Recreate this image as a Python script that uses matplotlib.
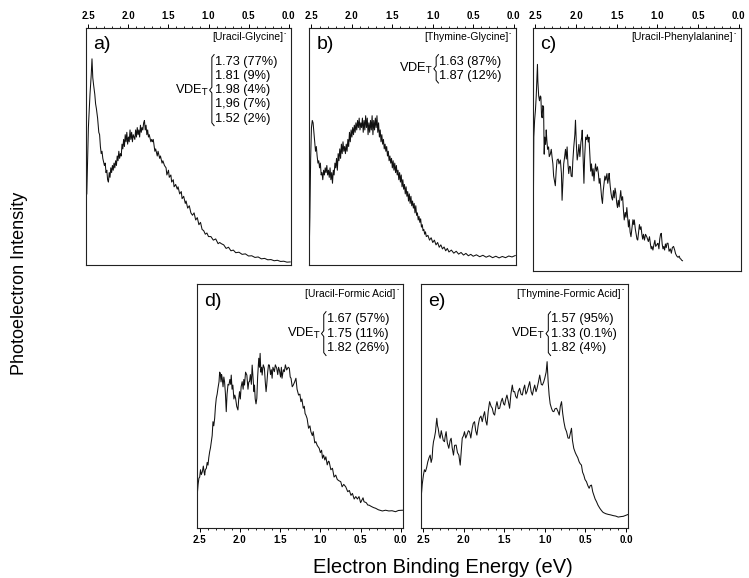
import numpy as np
import matplotlib.pyplot as plt
from matplotlib.ticker import MultipleLocator

plt.rcParams['font.family'] = ['Liberation Sans', 'DejaVu Sans']
plt.rcParams['mathtext.fontset'] = 'custom'
plt.rcParams['mathtext.rm'] = 'Liberation Sans'
plt.rcParams['mathtext.it'] = 'Liberation Sans:italic'

# tick values (eV) and their labels
xtick_vals = [2.5, 2.0, 1.5, 1.0, 0.5, 0.0]
xtick_labels = ['2.5', '2.0', '1.5', '1.0', '0.5', '0.0']

letters = ['a)', 'b)', 'c)', 'd)', 'e)']
species = ['[Uracil-Glycine]', '[Thymine-Glycine]', '[Uracil-Phenylalanine]',
           '[Uracil-Formic Acid]', '[Thymine-Formic Acid]']
vde_a = ['1.73 (77%)', '1.81 (9%)', '1.98 (4%)', '1,96 (7%)', '1.52 (2%)']
vde_b = ['1.63 (87%)', '1.87 (12%)']
vde_c = []
vde_d = ['1.67 (57%)', '1.75 (11%)', '1.82 (26%)']
vde_e = ['1.57 (95%)', '1.33 (0.1%)', '1.82 (4%)']

# spectra: binding energy (eV) / intensity (arb., 0-100)
e_a = [2.52, 2.50, 2.48, 2.465, 2.455, 2.445, 2.435, 2.42, 2.41, 2.40,
       2.385, 2.37, 2.36, 2.35, 2.34, 2.33, 2.32, 2.30, 2.29, 2.28,
       2.27, 2.26, 2.25, 2.24, 2.23, 2.22, 2.21, 2.20, 2.19, 2.18,
       2.17, 2.16, 2.15, 2.14, 2.13, 2.12, 2.11, 2.10, 2.09, 2.08,
       2.07, 2.06, 2.05, 2.04, 2.03, 2.02, 2.01, 2.00, 1.99, 1.98,
       1.97, 1.96, 1.95, 1.94, 1.93, 1.92, 1.91, 1.90, 1.89, 1.88,
       1.87, 1.86, 1.85, 1.84, 1.83, 1.82, 1.81, 1.80, 1.79, 1.78,
       1.77, 1.76, 1.75, 1.74, 1.72, 1.71, 1.70, 1.69, 1.67, 1.66,
       1.64, 1.63, 1.61, 1.60, 1.58, 1.57, 1.55, 1.53, 1.52, 1.50,
       1.49, 1.47, 1.46, 1.44, 1.43, 1.41, 1.39, 1.38, 1.36, 1.34,
       1.33, 1.31, 1.29, 1.28, 1.26, 1.24, 1.22, 1.20, 1.18, 1.16,
       1.14, 1.12, 1.10, 1.08, 1.06, 1.04, 1.02, 1.00, 0.97, 0.94,
       0.91, 0.88, 0.86, 0.84, 0.81, 0.78, 0.75, 0.72, 0.69, 0.66,
       0.62, 0.58, 0.54, 0.50, 0.46, 0.42, 0.38, 0.34, 0.30, 0.26,
       0.22, 0.18, 0.14, 0.10, 0.06, 0.02, -0.02]
i_a = [30, 58, 72, 80, 87, 79, 76, 72, 68, 66,
       62, 56, 55, 50, 47, 48, 45, 42, 43, 39,
       40, 36, 35, 39, 37, 41, 39, 42, 40, 43,
       41, 44, 42, 46, 44, 48, 45, 47, 46, 51,
       49, 53, 50, 55, 52, 56, 51, 54, 52, 57,
       53, 56, 52, 55, 54, 53, 57, 54, 58, 55,
       57, 54, 59, 56, 58, 57, 60, 61, 57, 59,
       55, 57, 54, 55, 52, 53, 52, 53, 48, 49,
       46, 48, 45, 46, 43, 44, 42, 41, 38, 40,
       37, 38, 35, 36, 33, 34, 32, 33, 30, 31,
       28, 29, 26, 27, 24, 25, 22, 21, 22, 19,
       20, 17, 18, 15, 14.5, 13, 13.5, 12, 12, 10.5,
       11, 9, 9.5, 9, 8.5, 7, 7.5, 6, 6.3, 5.2,
       5.4, 4.5, 4.7, 3.8, 3.9, 3.2, 3.4, 2.6, 2.8, 2.2,
       2.3, 1.8, 2.0, 1.5, 1.6, 1.2, 1.3]

e_b = [2.53, 2.52, 2.51, 2.50, 2.49, 2.48, 2.47, 2.46, 2.45, 2.44,
       2.43, 2.42, 2.41, 2.40, 2.39, 2.38, 2.37, 2.36, 2.35, 2.34,
       2.33, 2.32, 2.31, 2.30, 2.29, 2.28, 2.27, 2.26, 2.25, 2.24,
       2.23, 2.22, 2.21, 2.20, 2.19, 2.18, 2.17, 2.16, 2.15, 2.14,
       2.13, 2.12, 2.11, 2.10, 2.09, 2.08, 2.07, 2.06, 2.05, 2.04,
       2.03, 2.02, 2.01, 2.00, 1.99, 1.98, 1.97, 1.96, 1.95, 1.94,
       1.93, 1.92, 1.91, 1.90, 1.89, 1.88, 1.87, 1.86, 1.85, 1.84,
       1.83, 1.82, 1.81, 1.80, 1.79, 1.78, 1.77, 1.76, 1.75, 1.74,
       1.73, 1.72, 1.71, 1.70, 1.69, 1.68, 1.67, 1.66, 1.65, 1.64,
       1.63, 1.62, 1.61, 1.60, 1.59, 1.58, 1.57, 1.56, 1.55, 1.54,
       1.53, 1.52, 1.51, 1.50, 1.49, 1.48, 1.47, 1.46, 1.45, 1.44,
       1.43, 1.42, 1.41, 1.40, 1.39, 1.38, 1.37, 1.36, 1.35, 1.34,
       1.33, 1.32, 1.31, 1.30, 1.29, 1.28, 1.27, 1.26, 1.25, 1.24,
       1.23, 1.22, 1.21, 1.20, 1.19, 1.18, 1.17, 1.16, 1.15, 1.14,
       1.13, 1.12, 1.11, 1.10, 1.09, 1.08, 1.06, 1.04, 1.02, 1.00,
       0.98, 0.96, 0.94, 0.92, 0.90, 0.88, 0.86, 0.84, 0.82, 0.80,
       0.77, 0.74, 0.71, 0.68, 0.65, 0.62, 0.59, 0.56, 0.53, 0.50,
       0.46, 0.42, 0.38, 0.34, 0.30, 0.26, 0.22, 0.18, 0.14, 0.10,
       0.06, 0.02, -0.02]
i_b = [2, 20, 45, 58, 61, 60, 56, 52, 48, 50,
       46, 43, 44, 41, 43, 38, 39, 36, 40, 38,
       41, 39, 42, 38, 40, 37, 41, 36, 39, 34.5,
       40, 38, 43, 41, 45, 40, 47, 44, 49, 45,
       51, 47, 52, 48, 50, 47, 51, 48, 53, 50,
       56, 52, 57, 54, 58, 55, 59, 56, 60, 57,
       61, 58, 62, 57, 60, 58, 62, 56, 61, 57,
       63, 58, 62, 55, 60, 56, 61, 57, 63, 55,
       61, 57, 62, 58, 63, 56, 60, 54, 57, 52,
       55, 51, 53, 49, 51, 48, 50, 46, 48, 44,
       46, 43, 45, 41, 44, 40, 43, 39, 42, 38,
       40, 36, 39, 35, 38, 33, 36, 32, 34, 30,
       33, 29, 31, 27, 30, 26, 29, 25, 27, 24,
       26, 22, 25, 21, 22, 19, 20.5, 18, 19.5, 16,
       17, 14.5, 15, 13, 14, 12, 12.5, 10.5, 11.5, 9.5,
       10.5, 8.5, 9.5, 7.5, 8.5, 6.8, 7.6, 6, 7, 5.5,
       6.3, 5, 5.8, 4.6, 5.3, 4.2, 4.9, 3.9, 4.5, 3.7,
       4.3, 3.5, 4.1, 3.3, 3.9, 3.1, 3.7, 3.0, 3.6, 3.1,
       3.8, 3.4, 4.0]

e_c = [2.53, 2.525, 2.52, 2.51, 2.50, 2.49, 2.48, 2.475, 2.47, 2.46,
       2.45, 2.44, 2.433, 2.425, 2.417, 2.41, 2.40, 2.392, 2.385, 2.375,
       2.367, 2.36, 2.35, 2.338, 2.33, 2.317, 2.305, 2.296, 2.285, 2.276,
       2.265, 2.255, 2.245, 2.234, 2.22, 2.21, 2.193, 2.18, 2.172, 2.16,
       2.152, 2.14, 2.13, 2.12, 2.11, 2.10, 2.09, 2.08, 2.069, 2.06,
       2.048, 2.04, 2.028, 2.015, 2.007, 1.996, 1.986, 1.975, 1.965, 1.953,
       1.94, 1.93, 1.924, 1.915, 1.903, 1.895, 1.882, 1.87, 1.86, 1.85,
       1.841, 1.83, 1.82, 1.81, 1.80, 1.79, 1.779, 1.77, 1.76, 1.75,
       1.737, 1.725, 1.715, 1.705, 1.696, 1.685, 1.675, 1.665, 1.655, 1.645,
       1.634, 1.62, 1.61, 1.60, 1.593, 1.58, 1.57, 1.56, 1.551, 1.54,
       1.53, 1.52, 1.51, 1.50, 1.49, 1.48, 1.469, 1.46, 1.45, 1.44,
       1.427, 1.417, 1.407, 1.395, 1.385, 1.375, 1.365, 1.355, 1.345, 1.335,
       1.324, 1.31, 1.30, 1.29, 1.283, 1.27, 1.26, 1.25, 1.241, 1.23,
       1.22, 1.21, 1.20, 1.19, 1.18, 1.17, 1.158, 1.145, 1.13, 1.11,
       1.096, 1.085, 1.075, 1.066, 1.054, 1.04, 1.03, 1.02, 1.00, 0.992,
       0.98, 0.97, 0.96, 0.951, 0.94, 0.93, 0.92, 0.91, 0.90, 0.89,
       0.88, 0.868, 0.855, 0.84, 0.827, 0.815, 0.80, 0.786, 0.775, 0.76,
       0.744, 0.73, 0.72, 0.71, 0.70, 0.69]
i_c = [2, 30, 55, 62, 66, 72, 80, 85, 78, 72,
       70, 72, 71.6, 64, 63, 68, 67.5, 48, 55, 52,
       58, 54, 50, 51, 47, 48, 50, 47, 44, 39,
       37, 35, 41, 45.6, 46, 44, 45.6, 40, 29, 38,
       44, 47, 50, 46, 51, 44, 40, 43, 42.8, 39,
       38.7, 45, 51, 56, 62, 52, 45.6, 48, 52, 47,
       53, 55, 57.9, 49, 36, 46, 55, 54, 56, 53,
       55, 48, 41, 44, 39, 42, 37, 41, 44, 41,
       42.8, 40, 36, 38, 34.6, 30, 27.7, 33, 36, 39,
       37.3, 40, 36, 38, 40.1, 35, 32, 30, 29.1, 33,
       30, 34, 31.9, 28, 26, 29, 26.3, 30, 33, 29,
       30.5, 25, 20.9, 24, 22, 26, 22.2, 18, 21, 16,
       14, 18, 21, 19, 20.9, 17, 15, 13, 12.6, 16,
       19, 17, 18.1, 15, 13, 15, 12.6, 15, 14, 12,
       14, 11, 9, 10, 8.5, 11, 12.5, 10, 11, 11.3,
       9, 13, 15, 15.4, 11, 9, 10, 8.5, 11, 9.5,
       11.3, 11.3, 8, 9, 7.2, 9.5, 10, 8.5, 7, 6,
       5.5, 6, 5, 4.8, 4.3, 4.1]

e_d = [2.535, 2.53, 2.52, 2.51, 2.50, 2.49, 2.48, 2.467, 2.455, 2.445,
       2.438, 2.43, 2.417, 2.407, 2.397, 2.387, 2.376, 2.366, 2.356, 2.345,
       2.335, 2.325, 2.314, 2.304, 2.294, 2.283, 2.273, 2.26, 2.252, 2.244,
       2.235, 2.228, 2.22, 2.21, 2.20, 2.191, 2.18, 2.17, 2.16, 2.148,
       2.137, 2.125, 2.115, 2.108, 2.098, 2.088, 2.075, 2.064, 2.054, 2.04,
       2.025, 2.015, 2.005, 1.995, 1.985, 1.972, 1.96, 1.952, 1.943, 1.93,
       1.914, 1.90, 1.89, 1.881, 1.87, 1.858, 1.848, 1.835, 1.825, 1.819,
       1.81, 1.80, 1.79, 1.78, 1.766, 1.757, 1.749, 1.74, 1.73, 1.724,
       1.71, 1.696, 1.685, 1.675, 1.667, 1.655, 1.645, 1.634, 1.62, 1.61,
       1.60, 1.59, 1.572, 1.56, 1.543, 1.53, 1.52, 1.51, 1.495, 1.485,
       1.477, 1.46, 1.448, 1.435, 1.419, 1.40, 1.386, 1.375, 1.365, 1.35,
       1.337, 1.32, 1.304, 1.29, 1.271, 1.255, 1.242, 1.23, 1.213, 1.20,
       1.19, 1.18, 1.165, 1.147, 1.13, 1.118, 1.10, 1.089, 1.07, 1.056,
       1.04, 1.015, 1.00, 0.985, 0.974, 0.96, 0.945, 0.932, 0.915, 0.90,
       0.891, 0.87, 0.85, 0.83, 0.809, 0.79, 0.77, 0.747, 0.73, 0.71,
       0.685, 0.66, 0.64, 0.62, 0.602, 0.58, 0.56, 0.54, 0.52, 0.50,
       0.47, 0.458, 0.43, 0.41, 0.396, 0.37, 0.34, 0.313, 0.28, 0.25,
       0.23, 0.19, 0.149, 0.11, 0.066, 0.03, -0.02]
i_d = [8, 14, 18, 20.5, 21, 24, 22, 23.2, 25.5, 23,
       21.8, 24, 24.6, 27, 25.9, 29, 31.4, 33, 35.5, 38,
       43.7, 42, 45.1, 50, 53.3, 55, 57.4, 60, 64, 63.5,
       60, 63, 61.5, 58, 62, 60.1, 55, 47.8, 55, 59,
       58.7, 61, 59, 62.8, 57, 58.7, 53, 54.6, 53.3, 50,
       48.5, 53, 56, 53, 58, 60.1, 57, 61, 58.7, 64,
       62.8, 57, 60, 60.1, 63, 59, 66.9, 61, 56, 58.7,
       53, 51, 53.3, 62, 69.7, 66, 71.7, 64, 66, 62.8,
       67, 65.6, 60, 56, 58.7, 64, 67, 66.9, 63, 65,
       61.5, 66, 64.2, 67, 65.6, 63, 66, 64.9, 62, 66,
       61.5, 65, 64.2, 67, 64.9, 66, 65.6, 62, 61.5, 58,
       58.7, 60, 61.5, 57, 54.6, 55, 51.9, 53, 49.2, 50,
       47, 46.4, 45, 41, 42, 39.6, 38, 39.6, 35, 35.5,
       34, 32.8, 31, 32, 28.7, 30, 28, 29.3, 26, 27.5,
       27.3, 24, 24.6, 21, 21.8, 20, 19.5, 19.1, 17, 18,
       17, 15, 15.5, 13.5, 14.3, 12, 13, 12, 13, 10.5,
       12.5, 10.9, 10.5, 9.5, 9.5, 9, 8.5, 8.2, 7.6, 7.3,
       7.1, 7.4, 7.1, 7.2, 6.8, 7.3, 7.4]

e_e = [2.535, 2.529, 2.515, 2.50, 2.488, 2.475, 2.46, 2.446, 2.43, 2.417,
       2.405, 2.393, 2.385, 2.376, 2.365, 2.351, 2.342, 2.335, 2.326, 2.318,
       2.305, 2.294, 2.28, 2.269, 2.255, 2.24, 2.23, 2.22, 2.205, 2.187,
       2.17, 2.158, 2.145, 2.129, 2.115, 2.096, 2.08, 2.063, 2.046, 2.035,
       2.021, 2.005, 1.993, 1.978, 1.964, 1.945, 1.931, 1.915, 1.898, 1.885,
       1.869, 1.855, 1.84, 1.825, 1.807, 1.79, 1.774, 1.76, 1.745, 1.73,
       1.716, 1.70, 1.683, 1.665, 1.65, 1.635, 1.621, 1.605, 1.592, 1.575,
       1.559, 1.54, 1.526, 1.51, 1.498, 1.483, 1.469, 1.452, 1.436, 1.42,
       1.403, 1.39, 1.374, 1.36, 1.345, 1.33, 1.312, 1.295, 1.279, 1.265,
       1.25, 1.235, 1.221, 1.205, 1.188, 1.17, 1.155, 1.14, 1.126, 1.11,
       1.097, 1.08, 1.064, 1.045, 1.031, 1.015, 1.002, 0.985, 0.973, 0.96,
       0.948, 0.935, 0.919, 0.905, 0.89, 0.875, 0.857, 0.84, 0.823, 0.81,
       0.795, 0.78, 0.766, 0.75, 0.733, 0.715, 0.70, 0.685, 0.672, 0.66,
       0.644, 0.625, 0.611, 0.595, 0.578, 0.565, 0.549, 0.535, 0.52, 0.505,
       0.487, 0.47, 0.454, 0.44, 0.425, 0.41, 0.396, 0.38, 0.363, 0.345,
       0.322, 0.30, 0.281, 0.25, 0.219, 0.19, 0.157, 0.125, 0.095, 0.06,
       0.033, -0.029]
i_e = [8, 12.3, 18, 21.8, 24, 23.2, 25, 27.3, 29, 30,
       27, 28.7, 33, 35.5, 37, 39.6, 43, 45.1, 42, 41,
       38, 36.9, 40, 38.2, 36, 35.5, 38, 39.6, 35, 32.8,
       36, 36.9, 33, 30, 34, 34.1, 31, 30, 25.9, 31,
       36.9, 38, 39.6, 37, 38.2, 40, 39.6, 37, 41, 43,
       43.7, 40, 38.2, 42, 45.1, 46, 43.7, 46, 47.8, 44,
       42.3, 48, 51.9, 50, 49.2, 47, 46.4, 50, 51.9, 49,
       49.2, 52, 53.3, 51, 50.5, 53, 54.6, 52, 49.2, 55,
       58.7, 56, 56, 54, 53.3, 56, 57.4, 55, 54.6, 57,
       58.7, 55, 56, 58, 60.1, 56, 54.6, 57, 58.7, 56,
       57.4, 60, 62.8, 59, 58.7, 60, 61.5, 64, 68.3, 60,
       54.6, 51, 49.2, 48, 47.8, 49, 49.2, 48, 46.4, 50,
       51.9, 47, 43.7, 41, 39.6, 37, 36.9, 39, 41, 36,
       32.8, 31, 30, 29, 27.3, 26.5, 25.9, 23, 21.8, 20,
       19.1, 17.5, 16.4, 17.5, 17.7, 15, 13.6, 12, 10.9, 9.5,
       8.2, 7.2, 6.5, 6, 5.7, 5.5, 5.2, 5, 4.6, 4.8,
       4.9, 5.7]


def draw_brace(ax, x, y_top, y_bot):
    ym = (y_top + y_bot) / 2
    xs = [x + 0.013, x + 0.002, x + 0.002, x - 0.009, x + 0.002, x + 0.002, x + 0.013]
    ys = [y_top, y_top - 0.012, ym + 0.012, ym, ym - 0.012, y_bot + 0.012, y_bot]
    ax.plot(xs, ys, transform=ax.transAxes, color='black', lw=0.7, clip_on=False)


def panel(ax, e, i, letter, name, vde, top):
    ax.plot(e, i, color='#111111', lw=0.75)
    ax.set_xlim(2.53, -0.03)
    ax.set_ylim(0, 100)
    ax.set_yticks([])
    ax.set_xticks(xtick_vals)
    ax.set_xticklabels(xtick_labels, fontweight='bold')
    ax.xaxis.set_minor_locator(MultipleLocator(0.1))
    if top:
        ax.xaxis.tick_top()
    ax.tick_params(axis='x', which='major', direction='out', length=3, width=0.7,
                   labelsize=7, pad=2)
    ax.tick_params(axis='x', which='minor', direction='out', length=1.6, width=0.6)
    for s in ax.spines.values():
        s.set_linewidth(0.8)
        s.set_color('#222222')

    ax.text(0.035, 0.93, letter, transform=ax.transAxes, fontsize=14,
            ha='left', va='center')
    ax.text(0.962, 0.962, name, transform=ax.transAxes,
            fontsize=7.5, ha='right', va='center')
    ax.text(0.966, 0.978, '-', transform=ax.transAxes,
            fontsize=5, ha='left', va='center')
    if vde:
        y0 = 0.858
        dy = 0.06
        ys = [y0 - k * dy for k in range(len(vde))]
        for y, s in zip(ys, vde):
            ax.text(0.628, y, s, transform=ax.transAxes, fontsize=9.2,
                    ha='left', va='center')
        draw_brace(ax, 0.612, ys[0] + 0.03, ys[-1] - 0.03)
        ax.text(0.598, (ys[0] + ys[-1]) / 2, r'VDE$_\mathsf{T}$', transform=ax.transAxes,
                fontsize=9.2, ha='right', va='center')


fig = plt.figure(figsize=(7.49, 5.78), dpi=100)

ax_a = fig.add_axes([0.1148, 0.5415, 0.2737, 0.4100])
ax_b = fig.add_axes([0.4126, 0.5415, 0.2764, 0.4100])
ax_c = fig.add_axes([0.7116, 0.5317, 0.2777, 0.4199])
ax_d = fig.add_axes([0.2634, 0.0860, 0.2750, 0.4221])
ax_e = fig.add_axes([0.5621, 0.0860, 0.2768, 0.4221])

panel(ax_a, e_a, i_a, letters[0], species[0], vde_a, True)
panel(ax_b, e_b, i_b, letters[1], species[1], vde_b, True)
panel(ax_c, e_c, i_c, letters[2], species[2], vde_c, True)
panel(ax_d, e_d, i_d, letters[3], species[3], vde_d, False)
panel(ax_e, e_e, i_e, letters[4], species[4], vde_e, False)

fig.text(0.026, 0.51, 'Photoelectron Intensity', rotation=90, fontsize=13,
         ha='center', va='center')
fig.text(0.591, 0.019, 'Electron Binding Energy (eV)', fontsize=14.5,
         ha='center', va='center')

fig.savefig('out.png', dpi=100)
